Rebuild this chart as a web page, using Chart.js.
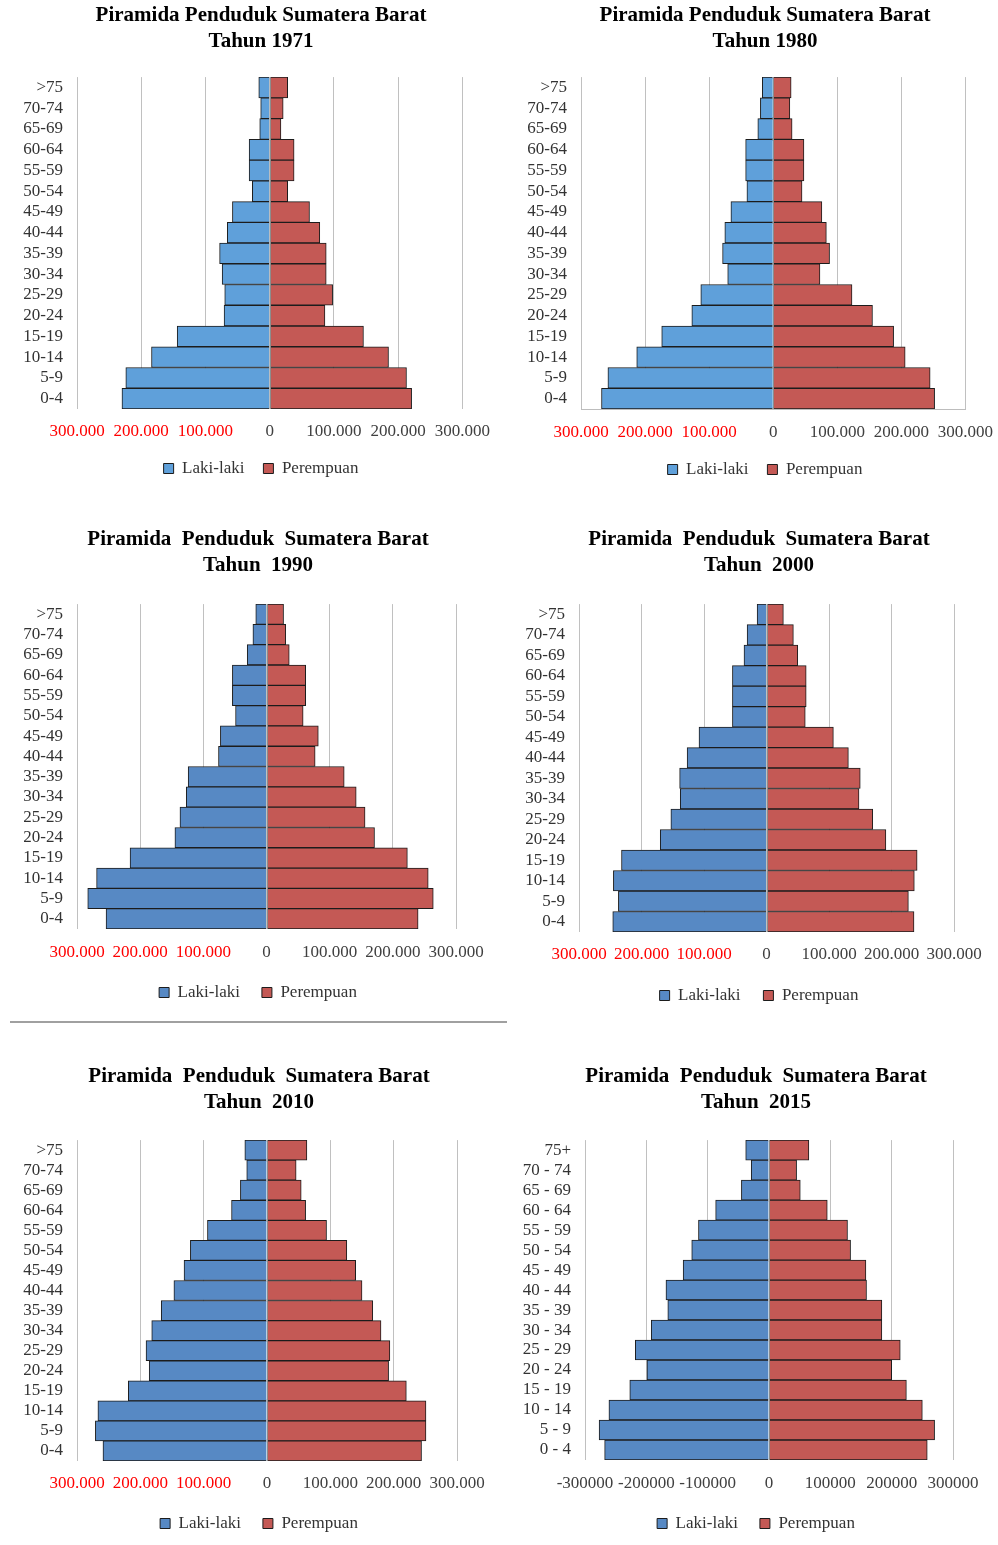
<!DOCTYPE html>
<html>
<head>
<meta charset="utf-8">
<script src="https://cdn.jsdelivr.net/npm/chart.js@4"></script>
<style>
  html, body { margin: 0; background: #fff; overflow: hidden; }
  .box { position: absolute; }
  .divider { position: absolute; left: 10px; top: 1021px; width: 497px; border-top: 2px solid #a0a0a0; }
</style>
</head>
<body>
<div class="box" style="left:0;top:0;width:502px;height:487px"><canvas id="c1971"></canvas></div>
<div class="box" style="left:500px;top:0;width:506px;height:488px"><canvas id="c1980"></canvas></div>
<div class="box" style="left:0;top:524px;width:500px;height:487px"><canvas id="c1990"></canvas></div>
<div class="box" style="left:500px;top:524px;width:498px;height:490px"><canvas id="c2000"></canvas></div>
<div class="divider"></div>
<div class="box" style="left:0;top:1061px;width:500px;height:481px"><canvas id="c2010"></canvas></div>
<div class="box" style="left:500px;top:1061px;width:498px;height:481px"><canvas id="c2015"></canvas></div>

<script>
// age groups, top of the pyramid first
const ageGroups = [">75", "70-74", "65-69", "60-64", "55-59", "50-54", "45-49", "40-44",
                   "35-39", "30-34", "25-29", "20-24", "15-19", "10-14", "5-9", "0-4"];
const ageGroups2015 = ["75+", "70 - 74", "65 - 69", "60 - 64", "55 - 59", "50 - 54", "45 - 49", "40 - 44",
                       "35 - 39", "30 - 34", "25 - 29", "20 - 24", "15 - 19", "10 - 14", "5 - 9", "0 - 4"];

const male1971   = [17000, 14000, 15500, 32000, 32000, 27000, 58000, 66000, 78000, 74000, 70000, 71000, 144000, 184000, 224000, 230000];
const female1971 = [28000, 21000, 17500, 38000, 38000, 28000, 62000, 78000, 88000, 88000, 98000, 86000, 146000, 185000, 213000, 221000];

const male1980   = [17000, 20000, 24000, 43000, 43000, 41000, 66000, 75500, 79000, 71000, 113000, 127000, 174000, 213000, 258000, 268000];
const female1980 = [28000, 26000, 29500, 48000, 48000, 45000, 76000, 83000, 88000, 73000, 123000, 155000, 188000, 206000, 245000, 252000];

const male1990   = [17000, 21500, 30500, 54000, 54000, 49000, 73000, 76000, 124000, 127000, 137000, 145000, 216000, 269000, 283000, 254000];
const female1990 = [27000, 30500, 36000, 62000, 62000, 58000, 82000, 77000, 123000, 142000, 156000, 171000, 223000, 256000, 264000, 240000];

const male2000   = [15000, 31000, 36000, 54500, 54500, 54500, 108000, 127000, 139000, 138000, 153000, 170000, 232000, 245000, 237000, 246000];
const female2000 = [27000, 43000, 50000, 63500, 63500, 62000, 107000, 131000, 150000, 148000, 170000, 191000, 241000, 236500, 227000, 236000];

const male2010   = [35000, 32000, 42000, 56000, 94000, 121000, 131000, 147000, 167000, 182000, 191000, 186000, 219000, 267000, 271000, 259000];
const female2010 = [63000, 46000, 54000, 61000, 94000, 126000, 140000, 150000, 167000, 180000, 194000, 192000, 220000, 251000, 251000, 244000];

const male2015   = [38000, 29000, 45000, 87000, 115000, 126000, 140000, 168000, 165000, 192000, 218000, 199000, 227000, 261000, 277000, 268000];
const female2015 = [65000, 45000, 51000, 95000, 128000, 133000, 158000, 159000, 184000, 184000, 214000, 200000, 224000, 250000, 270000, 258000];

const FONT = "'Liberation Serif', 'Times New Roman', serif";
const RED = "#c45955";
const BLUE_LIGHT = "#5fa0da";
const BLUE_DARK = "#5789c4";

// 300000 -> "300.000"
function dotFormat(v) {
  return String(Math.abs(v)).replace(/\B(?=(\d{3})+(?!\d))/g, ".");
}

// grey line on top of the bars at zero
const zeroLine = {
  id: "zeroLine",
  afterDatasetsDraw(chart) {
    const a = chart.chartArea;
    const x = Math.round(chart.scales.x.getPixelForValue(0)) + 0.5;
    const ctx = chart.ctx;
    ctx.save();
    ctx.strokeStyle = "#8c8c8c";
    ctx.lineWidth = 1;
    ctx.beginPath();
    ctx.moveTo(x, a.top);
    ctx.lineTo(x, a.bottom);
    ctx.stroke();
    ctx.restore();
  }
};

function buildPyramid(id, o) {
  new Chart(document.getElementById(id), {
    type: "bar",
    data: {
      labels: o.labels,
      datasets: [
        { label: "Laki-laki", data: o.male.map((v) => -v), backgroundColor: o.blue,
          borderColor: "#1c1c1c", borderWidth: 1, categoryPercentage: 1, barPercentage: 1 },
        { label: "Perempuan", data: o.female, backgroundColor: RED,
          borderColor: "#1c1c1c", borderWidth: 1, categoryPercentage: 1, barPercentage: 1 }
      ]
    },
    options: {
      indexAxis: "y",
      responsive: true,
      maintainAspectRatio: false,
      animation: false,
      layout: { padding: { left: o.padL, right: o.padR, top: 0, bottom: 0 } },
      scales: {
        x: {
          stacked: true,
          min: -300000,
          max: 300000,
          grid: { color: "#c0c0c0", drawTicks: false },
          border: { display: !!o.axisLine, color: "#bdbdbd" },
          ticks: {
            stepSize: 100000,
            autoSkip: false,
            maxRotation: 0,
            padding: o.tickPad,
            font: { family: FONT, size: 17 },
            color: (ctx) => (o.redNeg && ctx.tick && ctx.tick.value < 0 ? "#ff0000" : "#404040"),
            callback: o.fmt
          },
          afterFit: (s) => { s.height = o.tickPad + 20; }
        },
        y: {
          stacked: true,
          grid: { display: false, drawTicks: false },
          border: { display: false },
          ticks: { autoSkip: false, padding: 14, font: { family: FONT, size: 17 }, color: "#333" },
          afterFit: (s) => { s.width = o.axisW; }
        },
        // empty spacer on the right so title and legend centre like the original
        spacer: {
          type: "category",
          axis: "y",
          position: "right",
          grid: { display: false, drawTicks: false },
          border: { display: false },
          ticks: { display: false },
          afterFit: (s) => { s.width = o.rightW; }
        }
      },
      plugins: {
        title: {
          display: true,
          text: o.title,
          color: "#000",
          font: { family: FONT, size: 21, weight: "bold", lineHeight: 1.24 },
          padding: { top: 3, bottom: o.titleGap }
        },
        legend: {
          position: "bottom",
          labels: {
            boxWidth: 10,
            boxHeight: 10,
            padding: o.legendPad,
            color: "#333",
            font: { family: FONT, size: 17 }
          }
        },
        tooltip: { enabled: false }
      }
    },
    plugins: [zeroLine]
  });
}

buildPyramid("c1971", {
  labels: ageGroups, male: male1971, female: female1971, blue: BLUE_LIGHT,
  title: ["Piramida Penduduk Sumatera Barat", "Tahun 1971"],
  fmt: dotFormat, redNeg: true, padL: 20, padR: 0, axisW: 57, rightW: 38,
  titleGap: 22, tickPad: 12, legendPad: 19
});
buildPyramid("c1980", {
  labels: ageGroups, male: male1980, female: female1980, blue: BLUE_LIGHT,
  title: ["Piramida Penduduk Sumatera Barat", "Tahun 1980"], axisLine: true,
  fmt: dotFormat, redNeg: true, padL: 24, padR: 0, axisW: 57, rightW: 38,
  titleGap: 22, tickPad: 13, legendPad: 19
});
buildPyramid("c1990", {
  labels: ageGroups, male: male1990, female: female1990, blue: BLUE_DARK,
  title: ["Piramida  Penduduk  Sumatera Barat", "Tahun  1990"],
  fmt: dotFormat, redNeg: true, padL: 17, padR: 1, axisW: 60, rightW: 43,
  titleGap: 25, tickPad: 13, legendPad: 22
});
buildPyramid("c2000", {
  labels: ageGroups, male: male2000, female: female2000, blue: BLUE_DARK,
  title: ["Piramida  Penduduk  Sumatera Barat", "Tahun  2000"],
  fmt: dotFormat, redNeg: true, padL: 20, padR: 0, axisW: 59, rightW: 44,
  titleGap: 25, tickPad: 12, legendPad: 23
});
buildPyramid("c2010", {
  labels: ageGroups, male: male2010, female: female2010, blue: BLUE_DARK,
  title: ["Piramida  Penduduk  Sumatera Barat", "Tahun  2010"],
  fmt: dotFormat, redNeg: true, padL: 18, padR: 0, axisW: 59, rightW: 43,
  titleGap: 24, tickPad: 12, legendPad: 22
});
buildPyramid("c2015", {
  labels: ageGroups2015, male: male2015, female: female2015, blue: BLUE_DARK,
  title: ["Piramida  Penduduk  Sumatera Barat", "Tahun  2015"],
  fmt: (v) => String(v), redNeg: false, padL: 17, padR: 3, axisW: 68, rightW: 42,
  titleGap: 24, tickPad: 13, legendPad: 22
});
</script>
</body>
</html>
